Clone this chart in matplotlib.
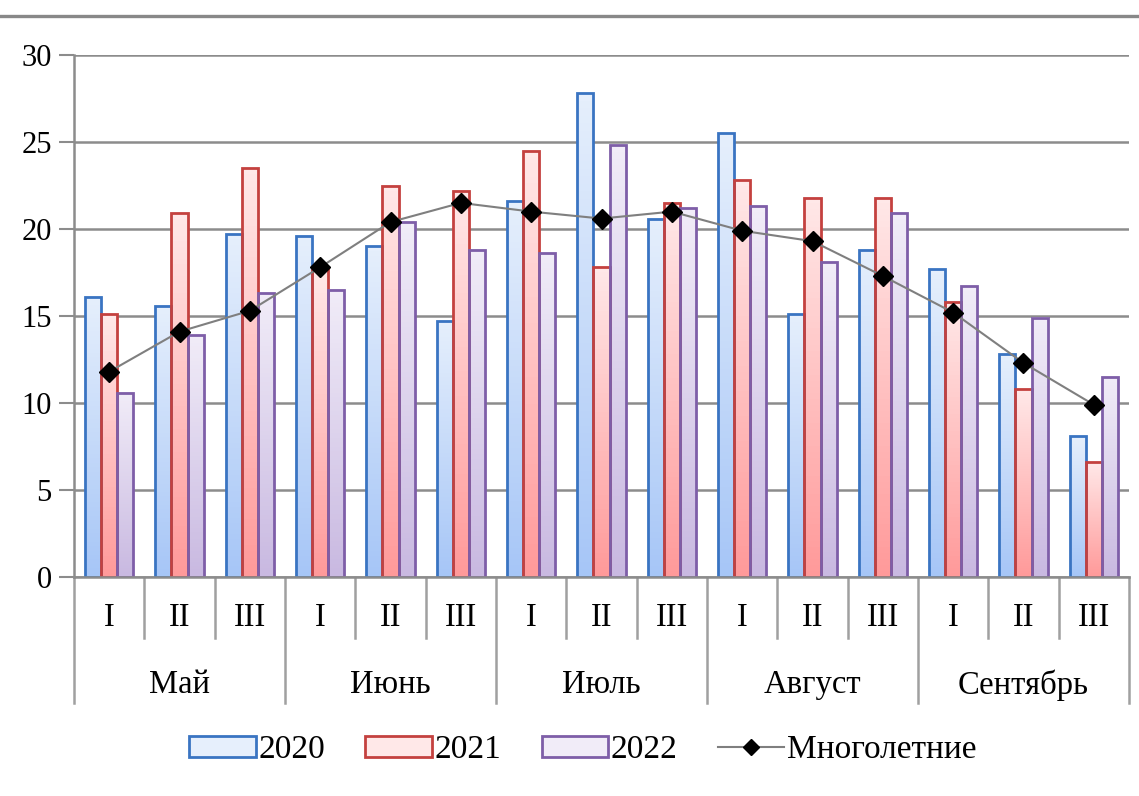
import numpy as np
import matplotlib.pyplot as plt
from matplotlib.patches import Patch
from matplotlib.lines import Line2D
from matplotlib.colors import LinearSegmentedColormap

plt.rcParams['font.family'] = ['Liberation Serif', 'DejaVu Serif']

months = ['Май', 'Июнь', 'Июль', 'Август', 'Сентябрь']
decades = ['I', 'II', 'III']

y2020 = [16.1, 15.6, 19.7, 19.6, 19.0, 14.7, 21.6, 27.8, 20.6, 25.5, 15.1, 18.8, 17.7, 12.8, 8.1]
y2021 = [15.1, 20.9, 23.5, 17.7, 22.5, 22.2, 24.5, 17.8, 21.5, 22.8, 21.8, 21.8, 15.8, 10.8, 6.6]
y2022 = [10.6, 13.9, 16.3, 16.5, 20.4, 18.8, 18.6, 24.8, 21.2, 21.3, 18.1, 20.9, 16.7, 14.9, 11.5]
norm = [11.8, 14.1, 15.3, 17.8, 20.4, 21.5, 21.0, 20.6, 21.0, 19.9, 19.3, 17.3, 15.2, 12.3, 9.9]

series = [
    ('2020', y2020, '#3a74c2', '#e6effc', '#a6c6f7'),
    ('2021', y2021, '#c4413f', '#ffe8e8', '#ff9a9a'),
    ('2022', y2022, '#7e5ea8', '#f1ecf8', '#c9b9e1'),
]

fig = plt.figure(figsize=(11.39, 7.96), dpi=100)
ax = fig.add_axes([74 / 1139, 1 - 577 / 796, (1129 - 74) / 1139, (577 - 55) / 796])

n = len(y2020)
x = np.arange(n) + 0.5
w = 0.228
handles = []
for k, (name, vals, edge, top, bottom) in enumerate(series):
    cmap = LinearSegmentedColormap.from_list(name, [bottom, top])
    bars = ax.bar(x + (k - 1) * w, vals, w, facecolor='none', edgecolor=edge,
                  linewidth=2.0, zorder=3)
    for b in bars:
        grad = np.linspace(0, 1, 64).reshape(-1, 1)
        ax.imshow(grad, cmap=cmap, origin='lower', aspect='auto', zorder=2,
                  extent=[b.get_x(), b.get_x() + b.get_width(), 0, b.get_height()])
    handles.append(Patch(facecolor=top, edgecolor=edge, linewidth=2.0, label=name))

ax.plot(x, norm, color='#7f7f7f', lw=1.5, marker='D', ms=10,
        mfc='black', mec='black', zorder=4)
handles.append(Line2D([], [], color='#7f7f7f', lw=1.5, marker='D', ms=8,
                      mfc='black', mec='black', label='Многолетние'))

ax.set_xlim(0, n)
ax.set_ylim(0, 30)
ax.set_yticks(range(0, 31, 5))
ax.yaxis.grid(True, color='#8c8c8c', lw=1.8)
ax.set_axisbelow(True)
ax.tick_params(axis='y', length=11, width=1.5, color='#8c8c8c', labelsize=22, pad=5)
ax.set_xticks([])
for s in ['top', 'right', 'bottom']:
    ax.spines[s].set_visible(False)
ax.spines['left'].set_color('#8c8c8c')
ax.spines['left'].set_linewidth(1.8)

# two-level category axis
trans = ax.get_xaxis_transform()
ax.plot([0, n], [0, 0], transform=trans, color='#8c8c8c', lw=1.8, clip_on=False, zorder=5)
for i in range(n + 1):
    low = -0.241 if i % 3 == 0 else -0.117
    ax.plot([i, i], [0, low], transform=trans, color='#a0a0a0', lw=1.8, clip_on=False)
for i in range(n):
    ax.text(i + 0.5, -0.078, decades[i % 3], transform=trans, ha='center', va='center',
            fontsize=23.5)
for m, name in enumerate(months):
    ax.text(m * 3 + 1.5, -0.207, name, transform=trans, ha='center', va='center',
            fontsize=23.5)

fig.add_artist(Line2D([0, 1], [1 - 16 / 796, 1 - 16 / 796], color='#888888', lw=2.4))

fig.legend(handles=handles, loc='center', bbox_to_anchor=(583 / 1139, 1 - 750 / 796),
           ncol=4, frameon=False, fontsize=24, handlelength=2.0, handleheight=0.6,
           handletextpad=0.08, columnspacing=1.2)

fig.savefig('out.png', dpi=100)
